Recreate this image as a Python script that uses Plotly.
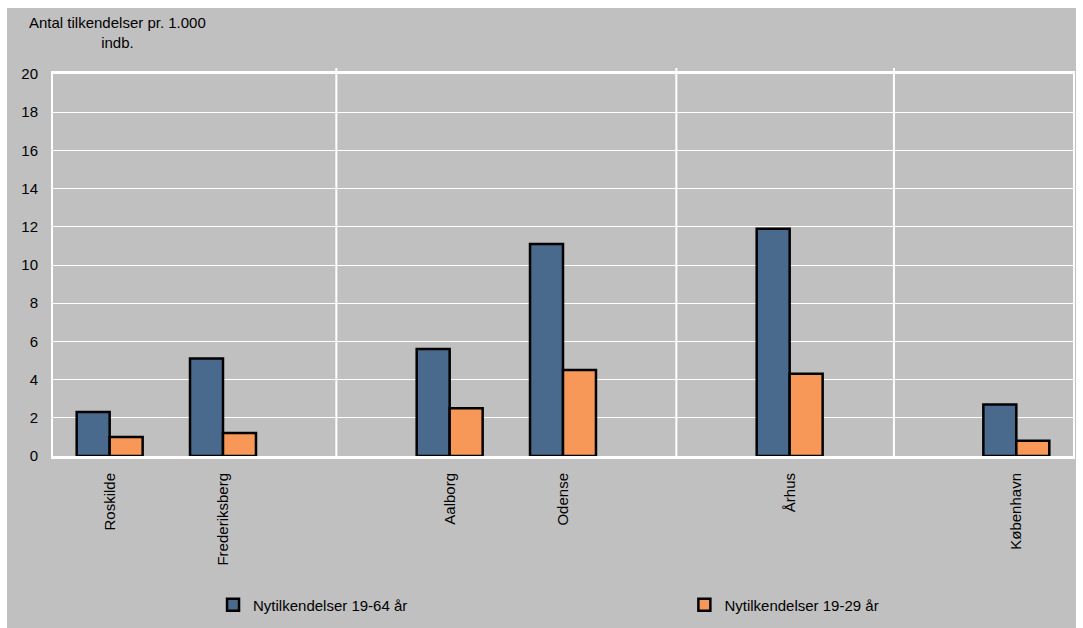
import plotly.graph_objects as go

# Category slots along the x axis (blank slots separate the groups)
categories = ["Roskilde", "Frederiksberg", "", "Aalborg", "Odense", "", "Århus", "", "København"]
series_names = ["Nytilkendelser 19-64 år", "Nytilkendelser 19-29 år"]
age_19_64 = [2.3, 5.1, None, 5.6, 11.1, None, 11.9, None, 2.7]
age_19_29 = [1.0, 1.2, None, 2.5, 4.5, None, 4.3, None, 0.8]
y_ticks = [0, 2, 4, 6, 8, 10, 12, 14, 16, 18, 20]
separators = [2, 5, 6.92]

BG = "#c0c0c0"
BLUE = "#4a6a8d"
ORANGE = "#f79858"
FONT = "Liberation Sans, Arial, sans-serif"

slots = list(range(len(categories)))

fig = go.Figure()
for name, vals, col, leg in [(series_names[0], age_19_64, BLUE, "legend"),
                             (series_names[1], age_19_29, ORANGE, "legend2")]:
    fig.add_trace(go.Bar(
        x=slots, y=vals, name=name, legend=leg,
        marker=dict(color=col, line=dict(color="#000000", width=2.5)),
    ))

shapes = [
    dict(type="rect", xref="paper", yref="paper", x0=-0.0451, x1=1.0029, y0=-0.48, y1=1.1728,
         fillcolor=BG, line=dict(width=0), layer="below"),
]
for s in separators:
    shapes.append(dict(type="line", xref="x", yref="paper", x0=s, x1=s, y0=0, y1=1.016,
                       line=dict(color="white", width=2), layer="below"))

legend_style = dict(orientation="h", yanchor="middle", xanchor="left", y=-0.39,
                    bgcolor="rgba(0,0,0,0)", font=dict(size=15, family=FONT))

fig.update_layout(
    width=1083, height=628,
    margin=dict(l=53, r=10, t=74, b=172, autoexpand=False),
    paper_bgcolor="white",
    plot_bgcolor=BG,
    font=dict(family=FONT, size=15, color="#000000"),
    barmode="group", bargap=0.418, bargroupgap=0,
    shapes=shapes,
    showlegend=True,
    legend=dict(x=0.1569, **legend_style),
    legend2=dict(x=0.619, **legend_style),
    annotations=[dict(text="Antal tilkendelser pr. 1.000<br>indb.", xref="paper", yref="paper",
                      x=0.0637, y=1.109, xanchor="center", yanchor="middle", align="center",
                      showarrow=False, font=dict(size=15, family=FONT))],
    xaxis=dict(range=[-0.5, 8.5], tickvals=slots, ticktext=categories, tickangle=-90,
               showgrid=False, zeroline=False, showline=True, linecolor="white", linewidth=3,
               mirror=True, ticks="", ticklabelstandoff=8, fixedrange=True, automargin=False),
    yaxis=dict(range=[0, 20], tickvals=y_ticks, showgrid=True, gridcolor="white", gridwidth=1,
               zeroline=False, showline=True, linecolor="white", linewidth=2, mirror=True,
               ticks="", ticklabelstandoff=10, fixedrange=True, automargin=False),
)

fig.write_html("out.html")
